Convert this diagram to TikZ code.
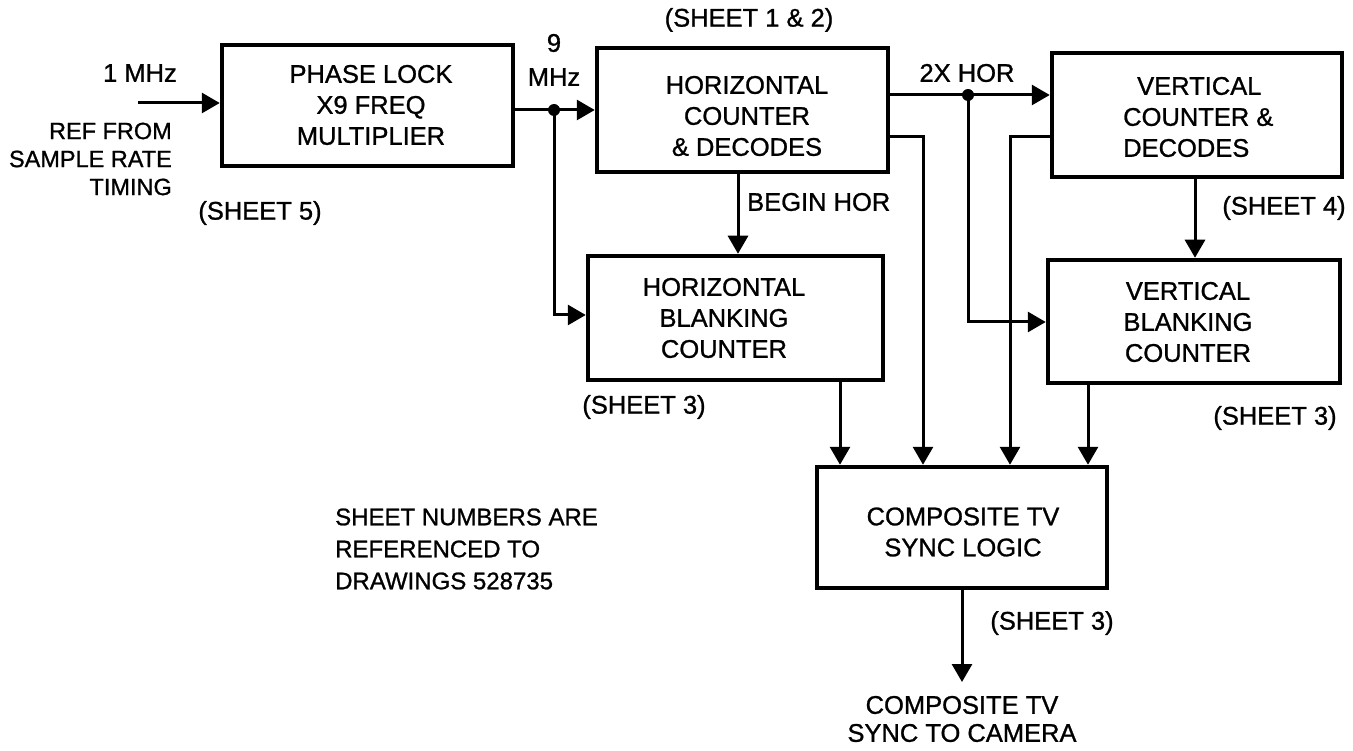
\documentclass[tikz,border=0pt]{standalone}
\usepackage{fontspec}
\setmainfont{Liberation Sans}[FakeBold=1]
\usetikzlibrary{arrows.meta,calc}
\begin{document}
\begin{tikzpicture}[x=1pt,y=-1pt,
  lbl/.style={font=\fontsize{25.5}{31}\selectfont, inner sep=0pt, align=center},
  blk/.style={draw, line width=4.5pt, inner sep=0pt},
  conn/.style={line width=3pt},
  arr/.style={conn, -{Triangle[length=18pt,width=20pt]}},
  dotj/.style={circle, fill, inner sep=0pt, minimum size=12pt}]
\useasboundingbox (0,0) rectangle (1353,751);

% blocks
\node[blk, minimum width=291pt, minimum height=121pt] (pll) at (367.5,105.5) {};
\node[blk, minimum width=291pt, minimum height=124pt] (hcd) at (742.5,110) {};
\node[blk, minimum width=295pt, minimum height=124pt] (hbc) at (735.5,318) {};
\node[blk, minimum width=290pt, minimum height=124pt] (vcd) at (1197,115) {};
\node[blk, minimum width=292pt, minimum height=123pt] (vbc) at (1194,321.5) {};
\node[blk, minimum width=290pt, minimum height=121pt] (comp) at (962,527.5) {};

% block texts
\node[lbl] (pllT) at (371,105) {PHASE LOCK\\X9 FREQ\\MULTIPLIER};
\node[lbl] (hcdT) at (747,116) {HORIZONTAL\\COUNTER\\\& DECODES};
\node[lbl] (hbcT) at (724,318) {HORIZONTAL\\BLANKING\\COUNTER};
\node[lbl, align=left, anchor=west] (vcdT) at (1123,117) {\hspace*{14pt}VERTICAL\\COUNTER \&\\DECODES};
\node[lbl] (vbcT) at (1188,322) {VERTICAL\\BLANKING\\COUNTER};
\node[lbl] (compT) at (963,532) {COMPOSITE TV\\SYNC LOGIC};

% connectors
\coordinate (inS) at (138,103);
\draw[arr] (inS) -- (inS -| pll.west);

\coordinate (j1) at (554,110);
\draw[conn] (j1 -| pll.east) -- (j1);
\draw[arr] (j1) -- (j1 -| hcd.west);
\coordinate (c1) at (554,315);
\draw[arr] (j1) -- (c1) -- (c1 -| hbc.west);
\node[dotj] (j1dot) at (j1) {};

\coordinate (bh) at (738,0);
\draw[arr] (bh |- hcd.south) -- (bh |- hbc.north);

\coordinate (j2) at (968,95);
\draw[conn] (j2 -| hcd.east) -- (j2);
\draw[arr] (j2) -- (j2 -| vcd.west);
\coordinate (c2) at (968,322);
\draw[arr] (j2) -- (c2) -- (c2 -| vbc.west);
\node[dotj] (j2dot) at (j2) {};

\coordinate (c3) at (923,137);
\draw[arr] (c3 -| hcd.east) -- (c3) -- (c3 |- comp.north);
\coordinate (c4) at (1010,137);
\draw[arr] (c4 -| vcd.west) -- (c4) -- (c4 |- comp.north);

\coordinate (c5) at (1195,0);
\draw[arr] (c5 |- vcd.south) -- (c5 |- vbc.north);
\coordinate (c6) at (840,0);
\draw[arr] (c6 |- hbc.south) -- (c6 |- comp.north);
\coordinate (c7) at (1088,0);
\draw[arr] (c7 |- vbc.south) -- (c7 |- comp.north);

\coordinate (outP) at (962,682);
\draw[arr] (comp.south) -- (outP);

% labels
\node[lbl] (l1mhz) at (140,73) {1 MHz};
\node[lbl, align=right, anchor=east, font=\fontsize{23.5}{28}\selectfont] (lref) at (172,159) {REF FROM\\SAMPLE RATE\\TIMING};
\node[lbl] (s5) at (260,213) {(SHEET 5)};
\node[lbl] (l9) at (554,43) {9};
\node[lbl] (lmhz) at (554,77) {MHz};
\node[lbl] (s12) at (749,20) {(SHEET 1 \& 2)};
\node[lbl, anchor=west] (lbh) at (747,202) {BEGIN HOR};
\node[lbl] (l2x) at (967,73) {2X HOR};
\node[lbl] (s4) at (1284,208) {(SHEET 4)};
\node[lbl] (s3a) at (644,407) {(SHEET 3)};
\node[lbl] (s3b) at (1275,418) {(SHEET 3)};
\node[lbl] (s3c) at (1052,623) {(SHEET 3)};
\node[lbl, align=left, anchor=west, font=\fontsize{24}{32}\selectfont] (note) at (335,549) {SHEET NUMBERS ARE\\REFERENCED TO\\DRAWINGS 528735};
\node[lbl, font=\fontsize{25.5}{28}\selectfont] (outl) at (962,719) {COMPOSITE TV\\SYNC TO CAMERA};
\end{tikzpicture}
\end{document}
